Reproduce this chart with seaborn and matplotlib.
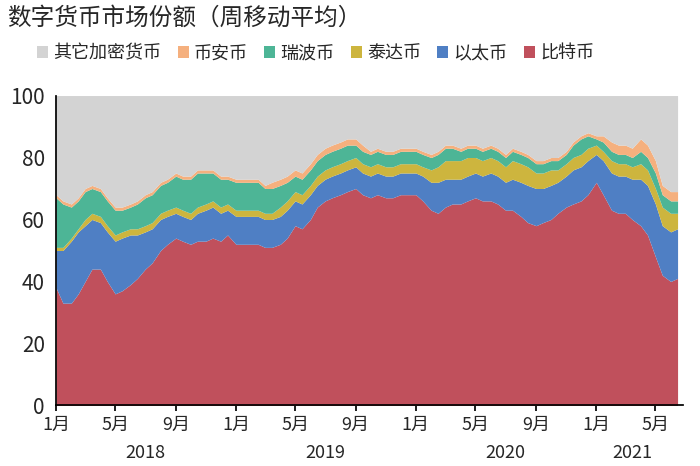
import numpy as np
import pandas as pd
import matplotlib
matplotlib.use("Agg")
import matplotlib.pyplot as plt
import matplotlib.transforms as mtransforms
import seaborn as sns

btc = [38,33,33,36,40,44,44,40,36,37,39,41,44,46,50,52,54,53,52,53,53,54,53,55,
       52,52,52,52,51,51,52,54,58,57,60,64,66,67,68,69,70,68,67,68,67,67,68,68,
       68,66,63,62,64,65,65,66,67,66,66,65,63,63,61,59,58,59,60,62,64,65,66,68,
       72,68,63,62,62,60,58,55,48,42,40,41]
eth = [12,17,20,20,18,16,15,16,17,17,16,14,12,11,10,9,8,8,8,9,10,10,9,8,
       9,9,9,9,9,9,9,9,8,8,8,7,7,7,7,7,7,7,7,7,7,7,7,7,
       7,8,9,10,9,8,8,8,8,8,9,9,9,10,11,12,12,11,11,10,10,11,11,11,
       9,11,12,12,12,13,15,16,17,16,16,16]
usdt = [1,1,1,1,2,2,2,2,2,2,2,2,2,2,2,2,2,2,2,2,2,2,2,2,
        2,2,2,2,2,2,3,3,3,3,3,3,3,3,3,3,3,3,3,3,3,3,3,3,
        3,3,4,5,6,6,6,6,5,5,5,5,5,6,6,6,5,5,5,4,4,4,4,4,
        3,3,4,4,4,4,5,5,5,6,6,5]
xrp = [16,14,10,9,9,8,8,8,8,7,7,8,9,9,9,9,10,10,11,11,10,9,9,8,
       9,9,9,9,8,8,7,6,5,5,5,5,5,5,5,5,4,4,4,4,4,4,4,4,
       4,4,4,4,4,4,3,3,3,3,3,3,3,3,3,3,3,3,3,3,3,4,5,4,
       2,3,3,3,3,3,4,4,5,4,4,4]
bnb = [1,1,1,1,1,1,1,1,1,1,1,1,1,1,1,1,1,1,1,1,1,1,1,1,
       1,1,1,1,1,2,2,2,2,2,2,2,2,2,2,2,2,2,1,1,1,1,1,1,
       1,1,1,1,1,1,1,1,1,1,1,1,1,1,1,1,1,1,1,1,1,1,1,1,
       1,2,3,3,3,3,4,4,4,3,3,3]
other = [100 - sum(v) for v in zip(btc, eth, usdt, xrp, bnb)]

names = ["比特币", "以太币", "泰达币", "瑞波币", "币安币", "其它加密货币"]
colors = ["#c0505c", "#4f7fc4", "#cdb53e", "#4db596", "#f5b07e", "#d3d3d3"]

dates = pd.date_range("2018-01-01", periods=len(btc), freq="SMS")

sns.set_theme(style="white")
plt.rcParams['font.family'] = ['Noto Sans CJK SC', 'DejaVu Sans']

fig, ax = plt.subplots(figsize=(7, 4.66), dpi=100)
fig.subplots_adjust(left=0.08, right=0.975, top=0.795, bottom=0.13)
ax.stackplot(dates, btc, eth, usdt, xrp, bnb, other, colors=colors, labels=names, linewidth=0)
ax.set_ylim(0, 100)
ax.set_xlim(dates[0], pd.Timestamp("2021-06-25"))
ax.set_yticks(range(0, 101, 20))
ax.tick_params(axis='y', labelsize=15, length=0, pad=8)
ticks = pd.date_range("2018-01-01", "2021-05-01", freq="4MS")
ax.set_xticks(ticks)
ax.set_xticklabels([f"{d.month}月" for d in ticks], fontsize=13)
ax.tick_params(axis='x', length=4, direction='out', bottom=True, color='black')
for s in ["top", "right"]:
    ax.spines[s].set_visible(False)
ax.spines["left"].set_color("black")
ax.spines["bottom"].set_color("black")
trans = mtransforms.blended_transform_factory(ax.transData, ax.transAxes)
for yr, mid in [("2018", "2018-07-01"), ("2019", "2019-07-01"), ("2020", "2020-07-01"), ("2021", "2021-03-15")]:
    ax.text(pd.Timestamp(mid), -0.155, yr, transform=trans, ha="center", va="center", fontsize=13)

fig.text(0.01, 0.96, "数字货币市场份额（周移动平均）", fontsize=17, ha="left", va="center")
handles, labels = ax.get_legend_handles_labels()
fig.legend(handles[::-1], labels[::-1], loc="center left", bbox_to_anchor=(0.03, 0.885), ncol=6,
           frameon=False, fontsize=13, handlelength=0.6, handleheight=0.6, handletextpad=0.3, columnspacing=0.9)
fig.savefig("out.png", dpi=100)
